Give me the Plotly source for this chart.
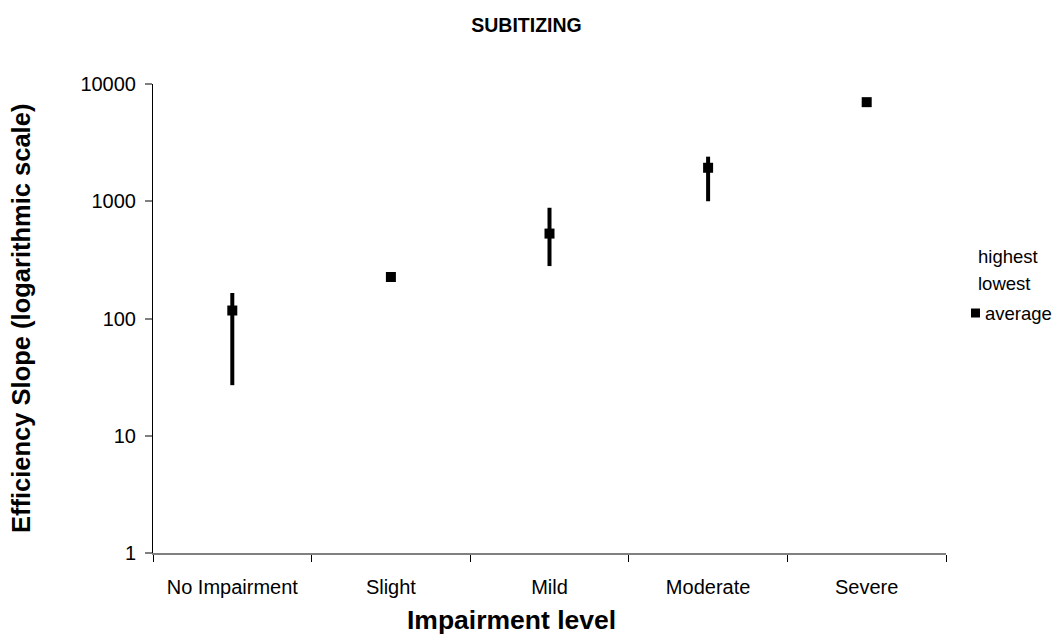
import plotly.graph_objects as go

# Impairment categories and the efficiency slope for each group
levels = ["No Impairment", "Slight", "Mild", "Moderate", "Severe"]
highest = [165, 240, 880, 2400, 7000]
lowest = [27, 212, 280, 1000, 7000]
average = [117, 226, 530, 1930, 7000]

y_tick_vals = [1, 10, 100, 1000, 10000]
y_tick_text = ["1", "10", "100", "1000", "10000"]

FONT = "Liberation Sans, Arial, sans-serif"
W, H = 1053, 637
L, R, T, B = 153, 107, 84, 84

# high-low bars: one vertical segment per category, broken by None
seg_x, seg_y = [], []
for lvl, lo, hi in zip(levels, lowest, highest):
    seg_x += [lvl, lvl, None]
    seg_y += [lo, hi, None]

fig = go.Figure()
fig.add_trace(go.Scatter(
    x=seg_x, y=seg_y, mode="lines",
    line=dict(color="black", width=4),
    hoverinfo="skip", showlegend=False,
))
fig.add_trace(go.Scatter(
    x=levels, y=average, mode="markers", name="average",
    marker=dict(symbol="square", size=10, color="black"),
    showlegend=False,
))

# pixel -> paper coordinate helpers for the side legend and titles
def px_x(px):
    return (px - L) / (W - L - R)

def px_y(py):
    return (H - B - py) / (H - T - B)

legend_font = dict(family=FONT, size=18.5, color="black")
for label, xpx, ypx in [("highest", 976, 256), ("lowest", 976, 283), ("average", 983, 313)]:
    fig.add_annotation(
        text=label, xref="paper", yref="paper", x=px_x(xpx), y=px_y(ypx),
        xanchor="left", yanchor="middle", showarrow=False, font=legend_font,
    )
fig.add_shape(
    type="rect", xref="paper", yref="paper",
    x0=px_x(971), x1=px_x(980), y0=px_y(317.5), y1=px_y(308.5),
    fillcolor="black", line=dict(width=0),
)

# axis titles
fig.add_annotation(
    text="<b>Impairment level</b>", xref="paper", yref="paper",
    x=px_x(511), y=px_y(620), xanchor="center", yanchor="middle",
    showarrow=False, font=dict(family=FONT, size=26.5, color="black"),
)
fig.add_annotation(
    text="<b>Efficiency Slope (logarithmic scale)</b>", xref="paper", yref="paper",
    x=px_x(21), y=px_y(319), xanchor="center", yanchor="middle", textangle=-90,
    showarrow=False, font=dict(family=FONT, size=25.5, color="black"),
)

fig.update_layout(
    width=W, height=H,
    margin=dict(l=L, r=R, t=T, b=B),
    paper_bgcolor="white", plot_bgcolor="white",
    font=dict(family=FONT, size=20, color="black"),
    title=dict(
        text="<b>SUBITIZING</b>", xref="container", x=0.5, xanchor="center",
        yref="container", y=1 - 25 / H, yanchor="middle",
        font=dict(family=FONT, size=19.5, color="black"),
    ),
    xaxis=dict(
        type="category", categoryorder="array", categoryarray=levels,
        range=[-0.5, 4.5], tickson="boundaries",
        ticks="outside", ticklen=7, tickcolor="black", tickwidth=1,
        ticklabelstandoff=15,
        showline=True, linecolor="#808080", linewidth=1.5,
        showgrid=False, zeroline=False,
        tickfont=dict(family=FONT, size=20, color="black"),
        automargin=False,
    ),
    yaxis=dict(
        type="log", range=[0, 4],
        tickvals=y_tick_vals, ticktext=y_tick_text,
        ticks="outside", ticklen=7, tickcolor="#808080", tickwidth=1.5,
        ticklabelstandoff=5,
        showline=True, linecolor="black", linewidth=1,
        showgrid=False, zeroline=False,
        tickfont=dict(family=FONT, size=20, color="black"),
        automargin=False,
    ),
)

fig.write_html("out.html")
